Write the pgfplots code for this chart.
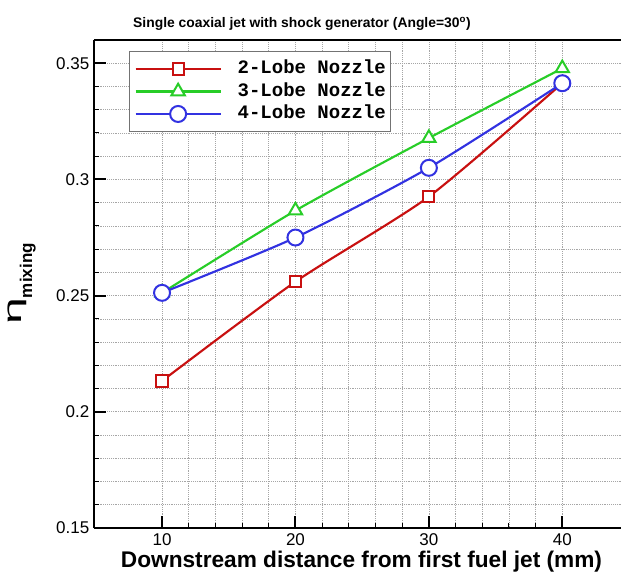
\documentclass[border=0pt]{standalone}
\usepackage{fontspec}
\setmainfont{Liberation Sans}
\newfontfamily\monofont{Liberation Mono}
\usepackage{pgfplots}
\pgfplotsset{compat=1.18}
\definecolor{cred}{RGB}{200,16,16}
\definecolor{cgreen}{RGB}{40,205,40}
\definecolor{cblue}{RGB}{50,50,225}
\begin{document}
\begin{tikzpicture}
\path[use as bounding box] (-70.5pt,-37.5pt) rectangle (395.25pt,396pt);
\begin{axis}[
  at={(0,0)}, anchor=south west,
  scale only axis, width=395.25pt, height=366pt,
  xmin=4.9, xmax=44.4, ymin=0.15, ymax=0.36,
  xtick={10,20,30,40}, ytick={0.15,0.2,0.25,0.3,0.35},
  minor x tick num=4, minor y tick num=4,
  grid=both,
  major grid style={densely dotted, black!35, line width=0.5pt},
  minor grid style={densely dotted, black!35, line width=0.5pt},
  tick align=inside, tick pos=left,
  major tick length=9pt, minor tick length=4pt,
  every major tick/.append style={black, line width=1.5pt},
  every minor tick/.append style={black, line width=0.8pt},
  axis line style={line width=2pt},
  axis y line*=left, y axis line style={-},
  ticklabel style={font=\fontsize{12.75}{14}\selectfont},
  /pgf/number format/assume math mode=true,
  xticklabel style={yshift=-1pt},
  xlabel={Downstream distance from first fuel jet (mm)},
  every axis x label/.style={at={(axis description cs:0.5,0)}, anchor=center, yshift=-25.5pt, xshift=3pt, font=\fontsize{17}{19}\selectfont\bfseries},
  ylabel={\scalebox{1.9}[1]{\fontsize{19}{20}\selectfont η}\raisebox{-8pt}{\fontsize{12.75}{14}\selectfont\bfseries mixing}},
  every axis y label/.style={at={(axis description cs:-0.137,0.5)}, anchor=center, rotate=90},
  legend style={at={(axis description cs:0.0664,0.9775)}, anchor=north west,
    draw=black!55, line width=0.8pt, fill=white,
    font=\monofont\bfseries\fontsize{14.25}{16}\selectfont,
    inner xsep=3.75pt, inner ysep=4.6pt,
    nodes={inner xsep=0pt, inner ysep=1.95pt, text height=10pt, text depth=3pt},
    /tikz/every odd column/.append style={column sep=12pt}},
  legend cell align=left,
  legend image code/.code={\draw[mark repeat=2,mark phase=2,#1] plot coordinates {(0pt,0pt) (31.9pt,0pt) (63.75pt,0pt)};},
]
\addplot[cred, line width=1.6pt, smooth, tension=0.4, mark=square*, mark size=4.2pt, mark options={fill=white, line width=1.5pt}]
  coordinates {(10,0.2133) (20,0.2560) (30,0.2926) (40,0.3414)};
\addlegendentry{2-Lobe Nozzle}
\addplot[cgreen, line width=1.6pt, smooth, tension=0.4, mark=triangle*, mark size=5.8pt, mark options={fill=white, line width=1.5pt}]
  coordinates {(10,0.2512) (20,0.2866) (30,0.3178) (40,0.3478)};
\addlegendentry{3-Lobe Nozzle}
\addplot[cblue, line width=1.6pt, smooth, tension=0.4, mark=*, mark size=6pt, mark options={fill=white, line width=1.5pt}]
  coordinates {(10,0.2512) (20,0.2750) (30,0.3050) (40,0.3414)};
\addlegendentry{4-Lobe Nozzle}
\end{axis}
\node[font=\fontsize{10.4}{12}\selectfont\bfseries] at (156pt,378pt) {Single coaxial jet with shock generator (Angle=30\textsuperscript{o})};
\end{tikzpicture}
\end{document}
